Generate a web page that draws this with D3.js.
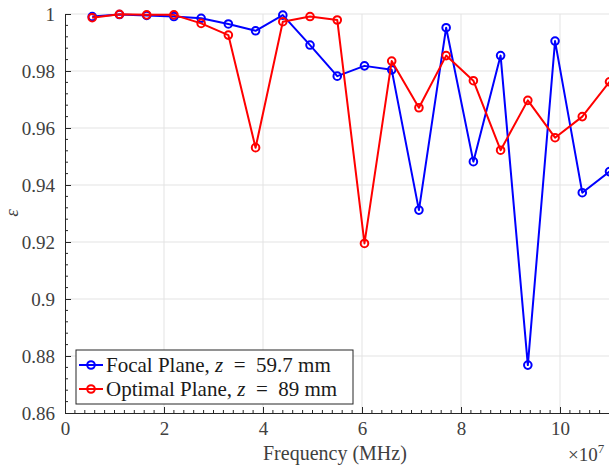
<!DOCTYPE html>
<html>
<head>
<meta charset="utf-8">
<script src="https://cdn.jsdelivr.net/npm/d3@7"></script>
<style>
  body { margin: 0; background: #fff; }
  #chart text { font-family: "Liberation Serif", "Times New Roman", Tinos, "DejaVu Serif", serif; }
</style>
</head>
<body>
<div id="chart"></div>
<script>
// frequencies (Hz)
const freqs = [0.55e7, 1.1e7, 1.65e7, 2.2e7, 2.75e7, 3.3e7, 3.85e7, 4.4e7, 4.95e7, 5.5e7,
               6.05e7, 6.6e7, 7.15e7, 7.7e7, 8.25e7, 8.8e7, 9.35e7, 9.9e7, 10.45e7, 11.0e7]
const focalPlane = [0.9991, 0.9998, 0.9995, 0.9991, 0.9985, 0.9965, 0.9941, 0.9996, 0.9891, 0.9782,
                    0.9818, 0.9804, 0.9312, 0.9952, 0.9482, 0.9854, 0.8768, 0.9905, 0.9373, 0.9447]
const optimalPlane = [0.9987, 0.9999, 0.9997, 0.9997, 0.9967, 0.9926, 0.9531, 0.9973, 0.9991, 0.9979,
                      0.9195, 0.9835, 0.9671, 0.9854, 0.9766, 0.9522, 0.9697, 0.9566, 0.9640, 0.9762]
const xTicks = [0, 2e7, 4e7, 6e7, 8e7, 10e7]
const yTicks = [0.86, 0.88, 0.9, 0.92, 0.94, 0.96, 0.98, 1]

const width = 609, height = 466
const serif = "'Liberation Serif'"
const svg = d3.select("#chart").append("svg")
    .attr("width", width)
    .attr("height", height)

const x = d3.scaleLinear().domain([0, 1.1e8]).range([65, 609.5])
const y = d3.scaleLinear().domain([0.86, 1]).range([413, 14])

const gridColor = "#e3e3e3"
const axisColor = "#262626"
const textColor = "#404040"

// grid
svg.append("g").selectAll("line").data(xTicks.slice(1)).enter().append("line")
    .attr("x1", d => x(d)).attr("x2", d => x(d))
    .attr("y1", y(0.86)).attr("y2", y(1))
    .attr("stroke", gridColor).attr("stroke-width", 1)
svg.append("g").selectAll("line").data(yTicks.slice(1)).enter().append("line")
    .attr("x1", x(0)).attr("x2", width)
    .attr("y1", d => y(d)).attr("y2", d => y(d))
    .attr("stroke", gridColor).attr("stroke-width", 1)

// minor ticks
const xMinor = d3.range(0, 1.1e8 + 1, 2e6).filter(d => d % 2e7 !== 0)
const yMinor = d3.range(0.86, 1.0001, 0.004).filter(d => Math.abs(Math.round(d / 0.02) * 0.02 - d) > 1e-6)

// axes (ticks point inward)
const xAxis = svg.append("g")
    .attr("transform", "translate(0," + y(0.86) + ")")
    .call(d3.axisBottom(x).tickValues(xTicks).tickFormat(d => d / 1e7).tickSizeInner(-6).tickSizeOuter(0).tickPadding(9))
const yAxis = svg.append("g")
    .attr("transform", "translate(" + x(0) + ",0)")
    .call(d3.axisLeft(y).tickValues(yTicks).tickFormat(d => d3.format("~g")(d)).tickSizeInner(-6).tickSizeOuter(0).tickPadding(10))

for (const g of [xAxis, yAxis]) {
    g.attr("font-family", serif).attr("font-size", 19)
    g.select(".domain").attr("stroke", axisColor).attr("stroke-width", 1)
    g.selectAll(".tick line").attr("stroke", axisColor)
    g.selectAll(".tick text").attr("fill", textColor)
        .attr("font-size", 19)
        .style("font-family", serif)
}

svg.append("g").selectAll("line").data(xMinor).enter().append("line")
    .attr("x1", d => x(d)).attr("x2", d => x(d))
    .attr("y1", y(0.86)).attr("y2", y(0.86) - 3)
    .attr("stroke", axisColor)
svg.append("g").selectAll("line").data(yMinor).enter().append("line")
    .attr("x1", x(0)).attr("x2", x(0) + 3)
    .attr("y1", d => y(d)).attr("y2", d => y(d))
    .attr("stroke", axisColor)

// labels
svg.append("text")
    .attr("x", 263).attr("y", 460)
    .attr("font-size", 20)
    .style("font-family", serif)
    .attr("fill", textColor)
    .text("Frequency (MHz)")

const mult = svg.append("text")
    .attr("x", 568).attr("y", 461)
    .attr("font-size", 19)
    .style("font-family", serif)
    .attr("fill", textColor)
mult.append("tspan").text("×10")
mult.append("tspan").attr("font-size", 13).attr("dy", -8).text("7")

svg.append("text")
    .attr("transform", "translate(18,213) rotate(-90)")
    .attr("text-anchor", "middle")
    .attr("font-size", 19)
    .style("font-family", serif).style("font-style", "italic")
    .attr("fill", textColor)
    .text("ε")

// series
const series = [
    { name: "Focal Plane, ", z: "59.7 mm", values: focalPlane, color: "#0000ff" },
    { name: "Optimal Plane, ", z: "89 mm", values: optimalPlane, color: "#ff0000" }
]

const line = d3.line()
    .x(d => x(d[0]))
    .y(d => y(d[1]))

const plot = svg.append("g")
series.forEach(function (s) {
    const pts = freqs.map((f, i) => [f, s.values[i]])
    plot.append("path")
        .datum(pts)
        .attr("d", line)
        .attr("fill", "none")
        .attr("stroke", s.color)
        .attr("stroke-width", 2)
        .attr("stroke-linejoin", "round")
    plot.append("g").selectAll("circle").data(pts).enter().append("circle")
        .attr("cx", d => x(d[0]))
        .attr("cy", d => y(d[1]))
        .attr("r", 3.8)
        .attr("fill", "none")
        .attr("stroke", s.color)
        .attr("stroke-width", 2)
})

// legend
const legend = svg.append("g").attr("transform", "translate(76,350)")
legend.append("rect")
    .attr("width", 277).attr("height", 54)
    .attr("fill", "#fff").attr("stroke", axisColor).attr("stroke-width", 1)
series.forEach(function (s, i) {
    const ly = 15 + i * 24
    legend.append("line")
        .attr("x1", 3).attr("x2", 27).attr("y1", ly).attr("y2", ly)
        .attr("stroke", s.color).attr("stroke-width", 2)
    legend.append("circle")
        .attr("cx", 15).attr("cy", ly).attr("r", 3.8)
        .attr("fill", "none").attr("stroke", s.color).attr("stroke-width", 2)
    const t = legend.append("text")
        .attr("x", 30).attr("y", ly + 7)
        .attr("font-size", 21)
        .style("font-family", serif)
        .attr("fill", "#1a1a1a")
    t.append("tspan").text(s.name)
    t.append("tspan").style("font-style", "italic").text("z")
    t.append("tspan").text("\u2002=\u2002" + s.z)
})
</script>
</body>
</html>
